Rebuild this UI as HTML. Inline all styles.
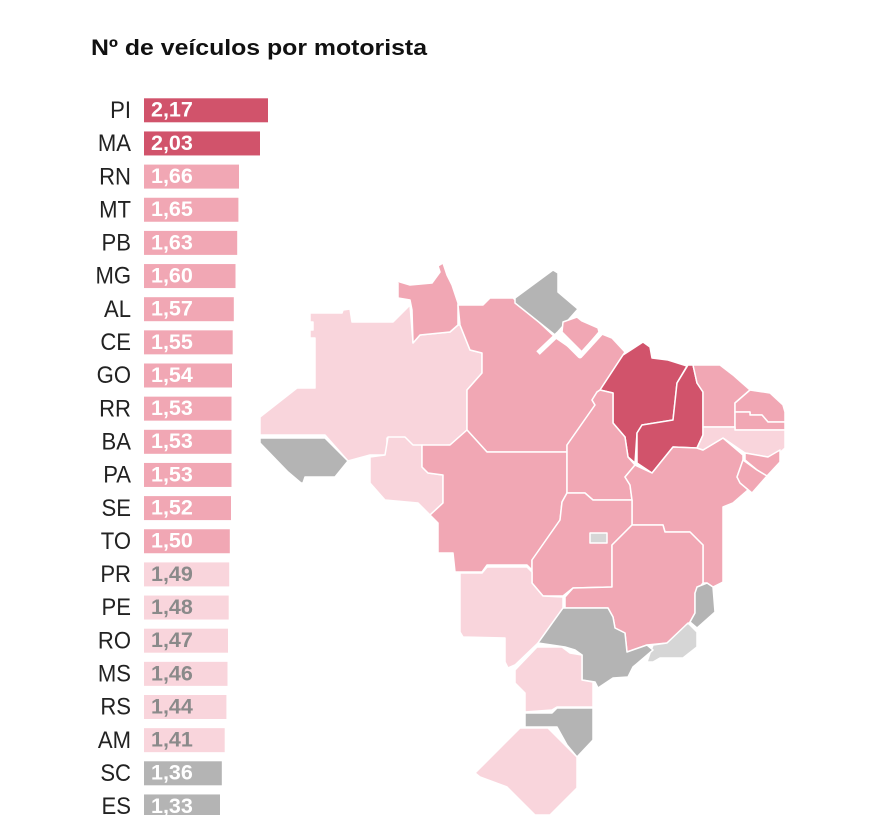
<!DOCTYPE html>
<html>
<head>
<meta charset="utf-8">
<style>
html,body{margin:0;padding:0;background:#fff;}
body{width:882px;height:815px;overflow:hidden;}
svg{display:block;}
.lb{font-family:"Liberation Sans",sans-serif;font-size:24px;fill:#222;}
.v{font-family:"Liberation Sans",sans-serif;font-size:21.5px;font-weight:bold;fill:#fff;}
.vg{fill:#8a8a8a;}
.st{stroke:#fff;stroke-width:1.5;stroke-linejoin:round;}
</style>
</head>
<body>
<svg width="882" height="815" viewBox="0 0 882 815" xmlns="http://www.w3.org/2000/svg">
<rect x="0" y="0" width="882" height="815" fill="#fff"/>
<text x="91" y="55" font-family="Liberation Sans, sans-serif" font-size="22.5" font-weight="bold" fill="#111" textLength="336" lengthAdjust="spacingAndGlyphs">Nº de veículos por motorista</text>

<!-- bars -->
<g>
<rect x="144" y="98.3" width="124" height="24" fill="#d1536b"/>
<rect x="144" y="131.45" width="116" height="24" fill="#d1536b"/>
<rect x="144" y="164.6" width="95" height="24" fill="#f1a7b4"/>
<rect x="144" y="197.75" width="94.4" height="24" fill="#f1a7b4"/>
<rect x="144" y="230.9" width="93.2" height="24" fill="#f1a7b4"/>
<rect x="144" y="264.05" width="91.5" height="24" fill="#f1a7b4"/>
<rect x="144" y="297.2" width="89.8" height="24" fill="#f1a7b4"/>
<rect x="144" y="330.35" width="88.7" height="24" fill="#f1a7b4"/>
<rect x="144" y="363.5" width="88" height="24" fill="#f1a7b4"/>
<rect x="144" y="396.65" width="87.5" height="24" fill="#f1a7b4"/>
<rect x="144" y="429.8" width="87.5" height="24" fill="#f1a7b4"/>
<rect x="144" y="462.95" width="87.5" height="24" fill="#f1a7b4"/>
<rect x="144" y="496.1" width="87" height="24" fill="#f1a7b4"/>
<rect x="144" y="529.25" width="85.8" height="24" fill="#f1a7b4"/>
<rect x="144" y="562.4" width="85.2" height="24" fill="#f9d5dc"/>
<rect x="144" y="595.55" width="84.7" height="24" fill="#f9d5dc"/>
<rect x="144" y="628.7" width="84" height="24" fill="#f9d5dc"/>
<rect x="144" y="661.85" width="83.5" height="24" fill="#f9d5dc"/>
<rect x="144" y="695" width="82.4" height="24" fill="#f9d5dc"/>
<rect x="144" y="728.15" width="80.7" height="24" fill="#f9d5dc"/>
<rect x="144" y="761.3" width="77.8" height="24" fill="#b4b4b4"/>
<rect x="144" y="794.45" width="76" height="24" fill="#b4b4b4"/>
</g>

<!-- values -->
<g>
<text class="v" x="151" y="116.7">2,17</text>
<text class="v" x="151" y="149.85">2,03</text>
<text class="v" x="151" y="183">1,66</text>
<text class="v" x="151" y="216.15">1,65</text>
<text class="v" x="151" y="249.3">1,63</text>
<text class="v" x="151" y="282.45">1,60</text>
<text class="v" x="151" y="315.6">1,57</text>
<text class="v" x="151" y="348.75">1,55</text>
<text class="v" x="151" y="381.9">1,54</text>
<text class="v" x="151" y="415.05">1,53</text>
<text class="v" x="151" y="448.2">1,53</text>
<text class="v" x="151" y="481.35">1,53</text>
<text class="v" x="151" y="514.5">1,52</text>
<text class="v" x="151" y="547.65">1,50</text>
<text class="v vg" x="151" y="580.8">1,49</text>
<text class="v vg" x="151" y="613.95">1,48</text>
<text class="v vg" x="151" y="647.1">1,47</text>
<text class="v vg" x="151" y="680.25">1,46</text>
<text class="v vg" x="151" y="713.4">1,44</text>
<text class="v vg" x="151" y="746.55">1,41</text>
<text class="v" x="151" y="779.7">1,36</text>
<text class="v" x="151" y="812.85">1,33</text>
</g>

<!-- labels -->
<g transform="translate(131,0) scale(0.92,1)">
<text class="lb" x="0" y="118" text-anchor="end">PI</text>
<text class="lb" x="0" y="151.15" text-anchor="end">MA</text>
<text class="lb" x="0" y="184.3" text-anchor="end">RN</text>
<text class="lb" x="0" y="217.45" text-anchor="end">MT</text>
<text class="lb" x="0" y="250.6" text-anchor="end">PB</text>
<text class="lb" x="0" y="283.75" text-anchor="end">MG</text>
<text class="lb" x="0" y="316.9" text-anchor="end">AL</text>
<text class="lb" x="0" y="350.05" text-anchor="end">CE</text>
<text class="lb" x="0" y="383.2" text-anchor="end">GO</text>
<text class="lb" x="0" y="416.35" text-anchor="end">RR</text>
<text class="lb" x="0" y="449.5" text-anchor="end">BA</text>
<text class="lb" x="0" y="482.65" text-anchor="end">PA</text>
<text class="lb" x="0" y="515.8" text-anchor="end">SE</text>
<text class="lb" x="0" y="548.95" text-anchor="end">TO</text>
<text class="lb" x="0" y="582.1" text-anchor="end">PR</text>
<text class="lb" x="0" y="615.25" text-anchor="end">PE</text>
<text class="lb" x="0" y="648.4" text-anchor="end">RO</text>
<text class="lb" x="0" y="681.55" text-anchor="end">MS</text>
<text class="lb" x="0" y="714.7" text-anchor="end">RS</text>
<text class="lb" x="0" y="747.85" text-anchor="end">AM</text>
<text class="lb" x="0" y="781" text-anchor="end">SC</text>
<text class="lb" x="0" y="814.15" text-anchor="end">ES</text>
</g>

<!-- map -->
<g class="st">
<!-- AM -->
<polygon fill="#f9d5dc" points="310,313 342,313 343,310 350,309 352,322 393,322 410,305 413,343 420,335 450,332 458,325 460,325 470,350 482,353 482,373 467,390 467,430 450,445 422,447 412,447 403,438 387,438 387,455 370,455 348,461 325,435 260,435 260,417 297,388 315,388 315,338 310,338 310,330 313,330 313,322 310,322"/>
<!-- RR -->
<polygon fill="#f1a7b4" points="390,278 398,283 398,298 410,300 412,310 413,343 420,335 450,332 458,325 458,303 452,285 447,275 443,263 438,266 440,272 432,283 410,285 400,282"/>
<!-- AC -->
<polygon fill="#b4b4b4" points="260,438 325,438 348,461 335,477 305,477 303,483 301,483 288,472 260,443"/>
<!-- RO -->
<polygon fill="#f9d5dc" points="370,457 385,455 388,437 405,437 413,445 422,445 422,467 428,473 443,475 443,503 430,515 418,503 385,500 370,483"/>
<!-- PA -->
<polygon fill="#f1a7b4" points="458,305 483,305 490,298 513,298 556,338 582,356 602,334 612,338 625,352 600,390 597,392 592,400 595,405 567,445 567,452 487,452 467,430 467,390 482,373 482,353 470,350 460,325"/>
<!-- AP -->
<polygon fill="#b4b4b4" points="515,298 553,270 558,273 558,292 578,309 555,335 515,303"/>
<!-- Marajo island -->
<polygon fill="#f1a7b4" points="563,322 577,317 582,321 598,328 599,332 582,352 562,332"/>
<polyline fill="none" stroke="#fff" stroke-width="5" points="538,353 558,334 580,356 601,333"/>
<!-- MT -->
<polygon fill="#f1a7b4" points="422,445 450,445 467,430 487,452 567,452 567,493 562,502 560,520 532,560 532,570 527,565 487,565 482,572 455,572 453,553 438,553 438,523 430,515 443,503 443,475 428,473 422,467"/>
<!-- MA -->
<polygon fill="#d1536b" points="623,355 643,342 650,347 652,358 668,360 687,366 677,383 673,420 642,425 637,433 635,463 628,457 625,437 613,423 613,393 600,390"/>
<!-- PI -->
<polygon fill="#d1536b" points="688,365 693,365 697,383 703,392 703,435 697,448 673,447 652,473 637,463 637,433 642,425 673,420 677,383"/>
<!-- TO -->
<polygon fill="#f1a7b4" points="600,390 613,393 613,423 625,437 628,457 635,465 625,477 630,485 632,500 593,500 585,493 567,493 567,445 595,405 592,400 597,392"/>
<!-- BA -->
<polygon fill="#f1a7b4" points="635,465 652,473 673,447 697,448 703,450 723,438 743,455 743,460 737,477 748,490 733,503 723,507 723,582 713,587 707,583 703,583 703,545 690,532 665,532 663,525 632,525 632,500 630,485 625,477"/>
<!-- CE -->
<polygon fill="#f1a7b4" points="693,365 720,365 733,375 750,390 735,403 735,427 703,427 703,392 697,383"/>
<!-- RN -->
<polygon fill="#f1a7b4" points="735,403 750,390 770,393 783,405 785,412 785,422 768,422 762,415 750,415 750,412 735,412"/>
<!-- PB -->
<polygon fill="#f1a7b4" points="735,412 750,412 750,415 762,415 768,422 785,422 785,430 735,430"/>
<!-- PE -->
<polygon fill="#f9d5dc" points="703,427 735,427 735,430 785,430 785,448 775,457 768,457 745,453 723,438 703,450 697,448 703,435"/>
<!-- AL -->
<polygon fill="#f1a7b4" points="745,453 768,457 780,450 780,462 767,476 757,470 745,460"/>
<!-- SE -->
<polygon fill="#f1a7b4" points="743,460 757,470 767,476 752,493 740,483 737,477"/>
<!-- GO -->
<polygon fill="#f1a7b4" points="532,560 560,520 562,502 567,493 585,493 593,500 632,500 632,525 612,545 612,587 573,588 563,596 543,596 532,583"/>
<!-- DF -->
<rect x="590" y="533" width="17" height="10" fill="#d6d6d6"/>
<!-- MG -->
<polygon fill="#f1a7b4" points="612,545 632,525 663,525 665,532 690,532 703,545 703,583 695,593 695,613 690,622 667,643 647,645 627,652 625,633 615,628 613,617 608,608 565,608 565,597 573,588 612,587"/>
<!-- ES -->
<polygon fill="#b4b4b4" points="697,587 707,583 713,587 715,612 697,628 690,622 695,613 695,593"/>
<!-- RJ -->
<polygon fill="#d6d6d6" points="688,623 697,632 697,647 683,658 660,658 653,662 647,662 650,653 653,645 667,643"/>
<!-- MS -->
<polygon fill="#f9d5dc" points="460,573 482,573 487,567 527,567 532,572 532,583 543,596 563,597 563,608 538,643 515,665 508,668 505,662 505,638 463,637 460,632"/>
<!-- SP -->
<polygon fill="#b4b4b4" points="538,643 563,608 608,608 613,617 615,628 625,633 627,652 647,645 653,650 633,667 628,677 613,678 598,688 595,682 582,680 582,655 575,650 565,647"/>
<!-- PR -->
<polygon fill="#f9d5dc" points="515,670 537,647 562,647 570,653 582,655 582,680 593,682 593,707 557,707 552,710 525,712 525,693 515,683"/>
<!-- SC -->
<polygon fill="#b4b4b4" points="525,713 552,713 557,708 593,708 593,740 577,757 567,745 557,727 525,727"/>
<!-- RS -->
<polygon fill="#f9d5dc" points="475,773 520,728 548,728 567,747 577,757 577,788 550,815 535,815 507,787 480,777"/>
</g>
</svg>
</body>
</html>
